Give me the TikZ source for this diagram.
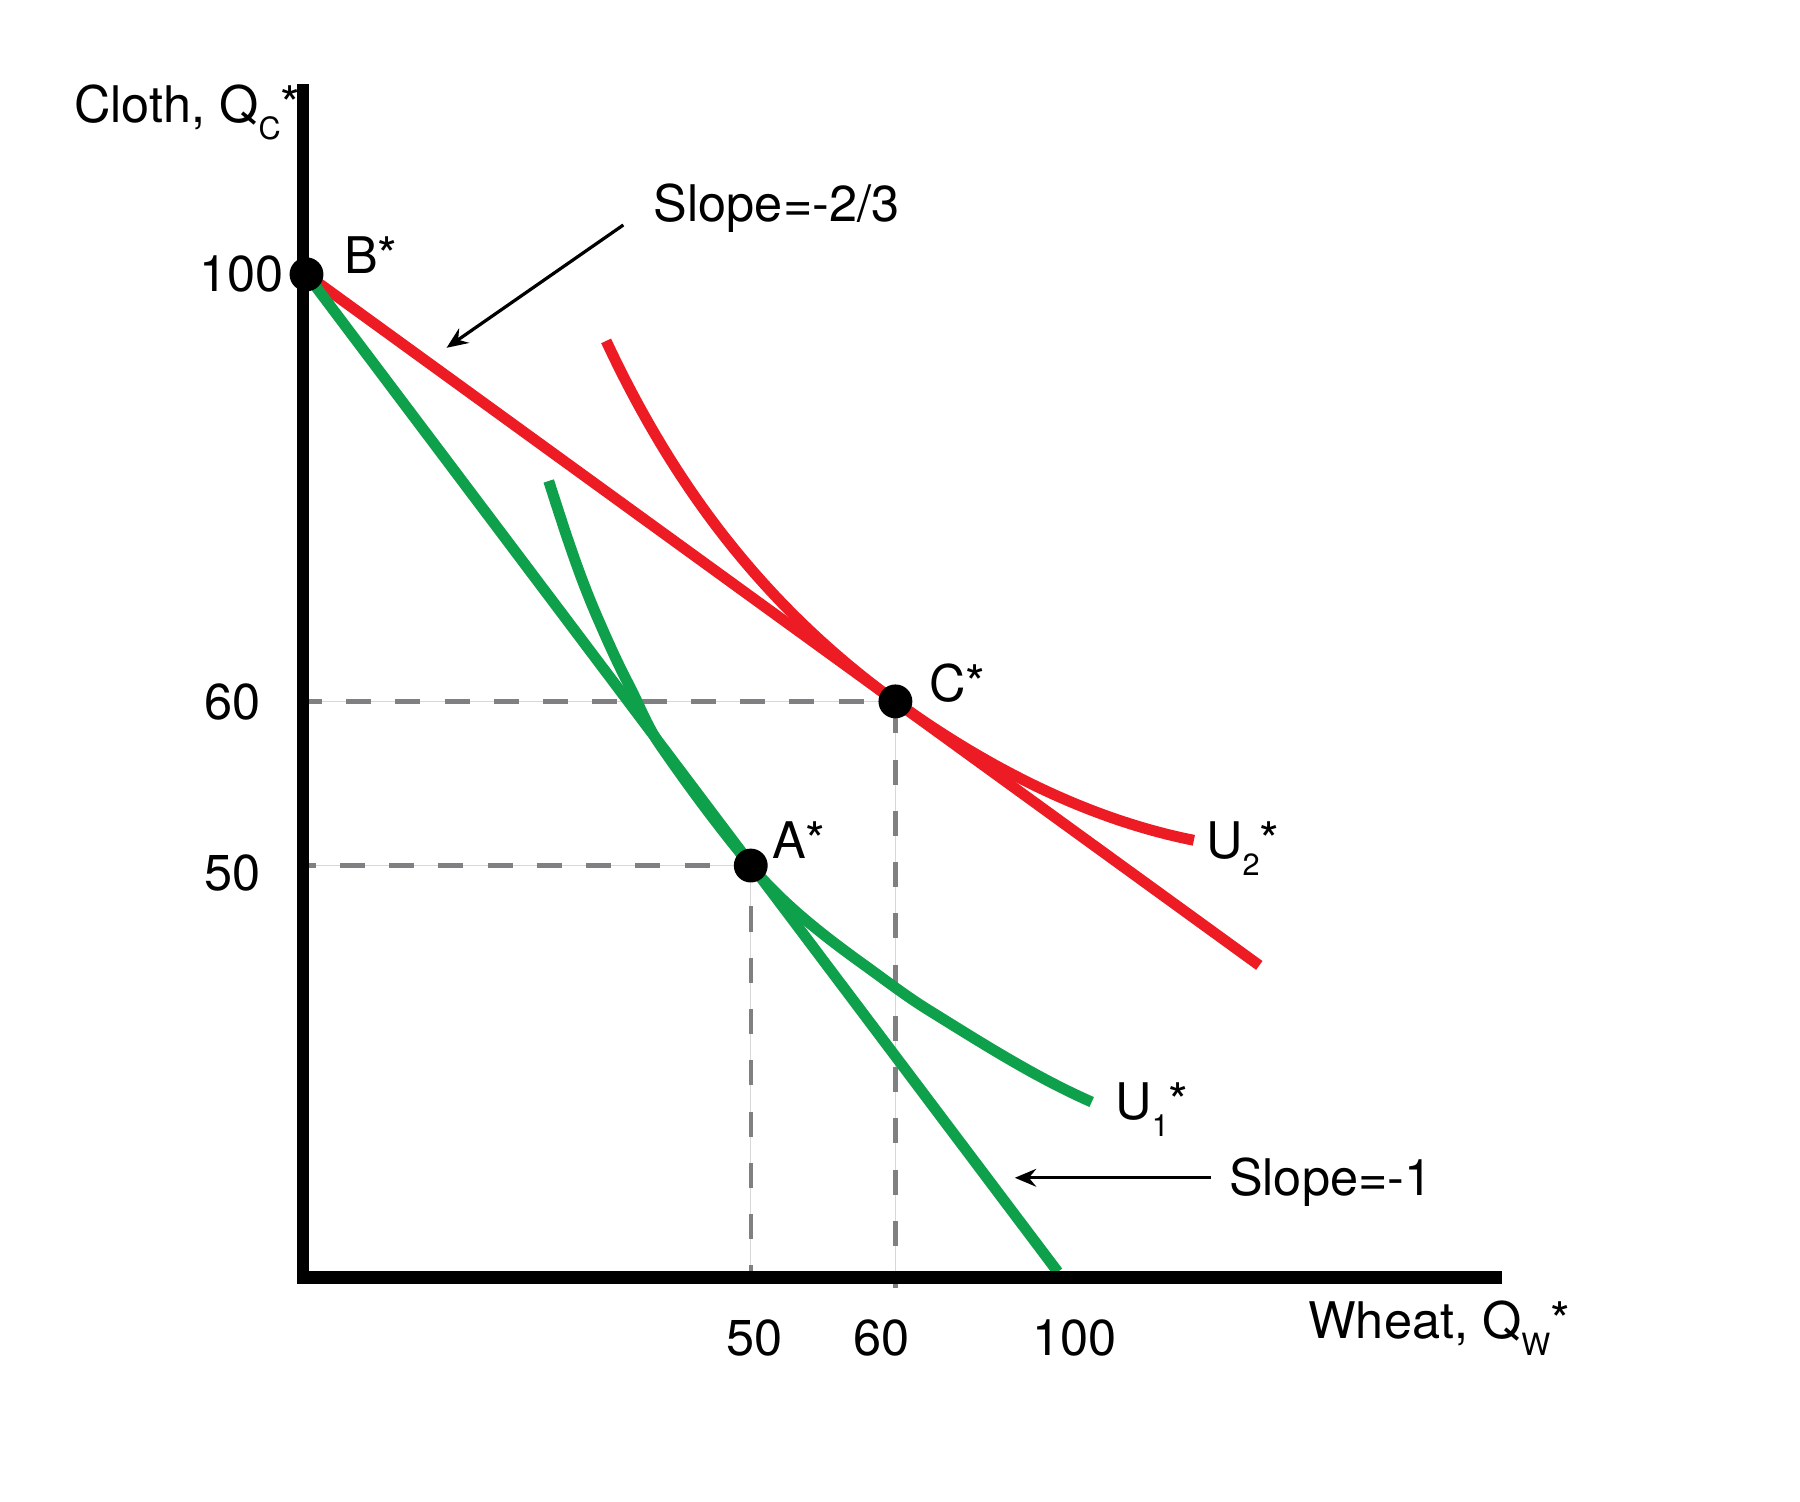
\documentclass[tikz,border=0pt]{standalone}
\usepackage{fontspec}
\setmainfont{TeX Gyre Heros}
\usetikzlibrary{arrows.meta}
\definecolor{ecored}{RGB}{237,28,36}
\definecolor{ecogreen}{RGB}{14,160,74}
\definecolor{dashgray}{RGB}{128,128,130}
\definecolor{guidegray}{RGB}{215,215,215}
\newcommand{\lsub}[1]{\raisebox{-4.2pt}{\fontsize{7.6}{8}\selectfont #1}}
\begin{document}
\begin{tikzpicture}[x=0.01cm, y=-0.01cm,
  lbl/.style={inner sep=0pt, font=\fontsize{12.5}{15}\selectfont},
  axisline/.style={line width=0.11cm, black},
  redline/.style={line width=0.095cm, ecored},
  greenline/.style={line width=0.095cm, ecogreen},
  guide/.style={line width=0.3pt, guidegray},
  hdash/.style={line width=1.05pt, dashgray, dash pattern=on 6.2pt off 6pt},
  vdash/.style={line width=1.05pt, dashgray, dash pattern=on 6.2pt off 6.5pt},
  dot/.style={circle, fill=black, inner sep=0pt, minimum size=0.295cm},
  pointer/.style={line width=0.8pt, -{Stealth[length=5.3pt,width=4.4pt,inset=1.8pt]}}
]
\useasboundingbox (0,0) rectangle (1568,1307.6);

% key points
\coordinate (Bp) at (267,239);
\coordinate (Cp) at (780,611);
\coordinate (Ap) at (654,754);
\coordinate (Rend) at (1097,841);
\coordinate (Gend) at (921.5,1108);

% guide lines (thin light line under dashed grey)
\draw[guide] (270,611) -- (Cp);
\draw[guide] (270,754) -- (Ap);
\draw[guide] (Cp) -- (780,1122);
\draw[guide] (Ap) -- (654,1108);
\draw[hdash, dash phase=0.4pt] (260,611) -- (Cp);
\draw[hdash, dash phase=1.65pt] (259,754) -- (Ap);
\draw[vdash] (780,617) -- (780,1122);
\draw[vdash] (654,745) -- (654,1108);

% budget lines
\draw[redline] (Bp) -- (Rend);
\draw[greenline] (Bp) -- (Gend);

% indifference curves
\draw[redline] plot[domain=528:780, samples=70] (\x, {1047.9 - 2632.7/((\x-177.4)/100)})
  .. controls (857.4,667.1) and (946.2,713.3) .. (1040,732);
\draw[greenline] (478,419) .. controls (490.8,458.7) and (503.4,498.8) .. (520,537)
  .. controls (528.5,556.5) and (537.1,576.1) .. (547,595)
  .. controls (556.5,613) and (563.5,632.3) .. (575,649)
  .. controls (599.9,685) and (626,720.4) .. (654,754)
  .. controls (681.8,787.4) and (716.7,814.6) .. (752,840)
  .. controls (770.8,853.5) and (789.3,867.8) .. (809,880)
  .. controls (855.2,908.6) and (901.3,938.1) .. (951,960);

% axes
\draw[axisline] (264,73.5) -- (264,1113) -- (1308,1113);

% points
\node[dot] (B) at (Bp) {};
\node[dot] (C) at (Cp) {};
\node[dot] (A) at (Ap) {};

% labels
\node[lbl, anchor=base west] (ylab) at (64,107) {Cloth, Q\lsub{C}*};
\node[lbl, anchor=base east] (y100) at (248,254) {100};
\node[lbl, anchor=base east] (y60) at (228,627) {60};
\node[lbl, anchor=base east] (y50) at (228,776) {50};
\node[lbl, anchor=base] (x50) at (657,1181) {50};
\node[lbl, anchor=base] (x60) at (768,1181) {60};
\node[lbl, anchor=base] (x100) at (936,1181) {100};
\node[lbl, anchor=base west] (xlab) at (1139,1166) {Wheat, Q\lsub{W}*};
\node[lbl, anchor=base west] (Blab) at (299,238) {B*};
\node[lbl, anchor=base west] (Clab) at (809,611) {C*};
\node[lbl, anchor=base west] (Alab) at (672,748) {A*};
\node[lbl, anchor=base west] (U2lab) at (1050,748) {U\lsub{2}*};
\node[lbl, anchor=base west] (U1lab) at (971,975) {U\lsub{1}*};
\node[lbl, anchor=base west] (s23) at (569,193) {Slope=-2/3};
\node[lbl, anchor=base west] (s1) at (1070,1041) {Slope=-1};

% pointers
\coordinate (s23tail) at (543,196);
\coordinate (s23tip) at (389,303);
\coordinate (s1tail) at (1055,1026);
\coordinate (s1tip) at (884,1026);
\draw[pointer] (s23tail) -- (s23tip);
\draw[pointer] (s1tail) -- (s1tip);
\end{tikzpicture}
\end{document}
